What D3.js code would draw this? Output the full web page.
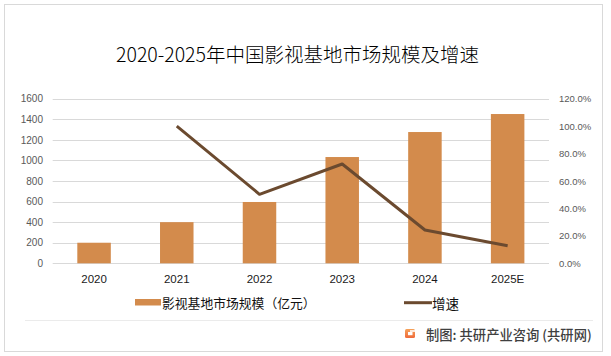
<!DOCTYPE html>
<html><head><meta charset="utf-8">
<script src="https://cdn.jsdelivr.net/npm/d3@7/dist/d3.min.js"></script>
<style>html,body{margin:0;padding:0;background:#fff;}svg{display:block;}</style>
</head><body>
<svg id="c" width="611" height="356"></svg>
<script>
const categories = ["2020","2021","2022","2023","2024","2025E"];
const marketSize = [200, 400, 596, 1033, 1276, 1451];
const growthRate = [null, 100.0, 50.3, 72.4, 24.3, 12.8];
const leftTicks = [0,200,400,600,800,1000,1200,1400,1600];
const rightTicks = [0,20,40,60,80,100,120];
const title = "2020-2025年中国影视基地市场规模及增速";
const barLegend = "影视基地市场规模（亿元）";
const lineLegend = "增速";
const footer = "制图: 共研产业咨询 (共研网)";

const svg = d3.select("#c");
const barColor = "#d38b4c", lineColor = "#6b4a2f";
const cjk = "'Noto Sans CJK SC','Noto Sans',sans-serif";
const latin = "'Liberation Sans',Arial,sans-serif";

// frame
svg.append("rect").attr("x",4.5).attr("y",4.5).attr("width",598).attr("height",347)
  .attr("fill","#fff").attr("stroke","#d9d9d9");
svg.append("line").attr("x1",25).attr("x2",593).attr("y1",320.5).attr("y2",320.5)
  .attr("stroke","#ebebeb");

// title
svg.append("text").attr("x",297.5).attr("y",53).attr("text-anchor","middle")
  .attr("dominant-baseline","central").attr("font-family",cjk).attr("font-size",19.5)
  .attr("font-weight",300).attr("fill","#000").text(title);

const x = d3.scaleBand().domain(categories).range([52.7,549]).paddingInner(0.595).paddingOuter(0.2975);
const y = d3.scaleLinear().domain([0,1600]).range([263.3,98.7]);
const y2 = d3.scaleLinear().domain([0,120]).range([263.3,98.7]);

// gridlines
svg.append("g").selectAll("line").data(leftTicks).join("line")
  .attr("x1",52.7).attr("x2",549).attr("y1",d=>Math.round(y(d))+0.5).attr("y2",d=>Math.round(y(d))+0.5)
  .attr("stroke","#d9d9d9");

// left axis
const la = svg.append("g").attr("transform","translate(43,0)")
  .call(d3.axisLeft(y).tickValues(leftTicks).tickSize(0).tickPadding(0).tickFormat(d3.format("d")));
la.select(".domain").remove();
la.selectAll("text").attr("font-family",latin).attr("font-size",10).attr("fill","#595959");

// right axis
const ra = svg.append("g").attr("transform","translate(559,0)")
  .call(d3.axisRight(y2).tickValues(rightTicks).tickSize(0).tickPadding(0).tickFormat(d=>d.toFixed(1)+"%"));
ra.select(".domain").remove();
ra.selectAll("text").attr("font-family",latin).attr("font-size",9.5).attr("fill","#595959");

// x axis labels
const xa = svg.append("g").attr("transform","translate(0,275)")
  .call(d3.axisBottom(x).tickSize(0).tickPadding(0));
xa.select(".domain").remove();
xa.selectAll("text").attr("font-family",latin).attr("font-size",11.5).attr("fill","#1a1a1a");

// bars
svg.append("g").selectAll("rect").data(categories).join("rect")
  .attr("x",d=>x(d)).attr("width",x.bandwidth())
  .attr("y",(d,i)=>y(marketSize[i])).attr("height",(d,i)=>y(0)-y(marketSize[i]))
  .attr("fill",barColor);

// line
const pts = categories.map((c,i)=>({c,v:growthRate[i]})).filter(d=>d.v!=null);
svg.append("path").datum(pts)
  .attr("d",d3.line().x(d=>x(d.c)+x.bandwidth()/2).y(d=>y2(d.v)))
  .attr("fill","none").attr("stroke",lineColor).attr("stroke-width",3).attr("stroke-linejoin","round");

// legend
svg.append("rect").attr("x",135).attr("y",299).attr("width",26).attr("height",6.5).attr("fill",barColor);
svg.append("text").attr("x",162).attr("y",302.7).attr("dominant-baseline","central")
  .attr("font-family",cjk).attr("font-size",12.8).attr("fill","#111").text(barLegend);
svg.append("line").attr("x1",404).attr("x2",432).attr("y1",302.7).attr("y2",302.7)
  .attr("stroke",lineColor).attr("stroke-width",3);
svg.append("text").attr("x",432).attr("y",302.7).attr("dominant-baseline","central")
  .attr("font-family",cjk).attr("font-size",13.5).attr("fill","#111").text(lineLegend);

// footer logo + text
const lg = svg.append("g").attr("transform","translate(405,329)");
const grad = svg.append("defs").append("linearGradient").attr("id","lgG").attr("x1",0).attr("y1",0).attr("x2",0).attr("y2",1);
grad.append("stop").attr("offset","0").attr("stop-color","#f5a25a");
grad.append("stop").attr("offset","1").attr("stop-color","#ef6a3a");
lg.append("rect").attr("width",10).attr("height",9).attr("rx",1.5).attr("fill","url(#lgG)");
lg.append("rect").attr("x",3).attr("y",3).attr("width",4.5).attr("height",3.2).attr("fill","#fff");
lg.append("rect").attr("x",5).attr("y",1.2).attr("width",5).attr("height",1.6).attr("fill","#fff");
svg.append("text").attr("x",426).attr("y",334).attr("dominant-baseline","central")
  .attr("font-family",cjk).attr("font-size",13.3).attr("font-weight",500).attr("fill","#404040").text(footer);
</script>
</body></html>
